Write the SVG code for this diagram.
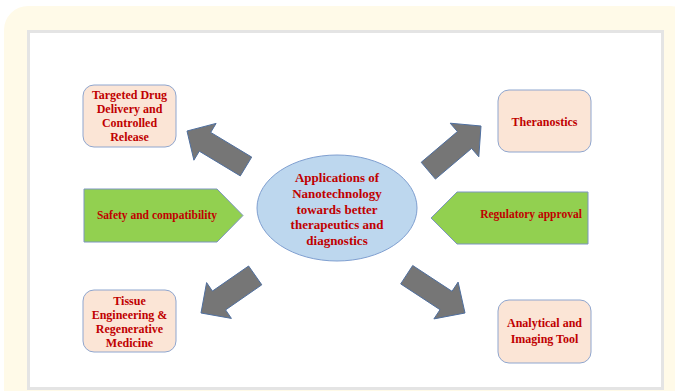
<svg xmlns="http://www.w3.org/2000/svg" width="675" height="391" viewBox="0 0 675 391">
<style>
.box{fill:#fbe5d6;stroke:#8fa6cf;stroke-width:1}
.grn{fill:#92d050;stroke:#7d95c0;stroke-width:1}
.arr{fill:#767676;stroke:#4f6f9f;stroke-width:1}
.t{font-family:"Liberation Serif","Times New Roman",serif;font-weight:bold;fill:#c00000;text-anchor:middle}
.s12{font-size:12px}
.s13{font-size:13px}
.s11{font-size:11.5px}
</style>
<rect x="4" y="6" width="690" height="420" rx="24" fill="#fffae8"/>
<rect x="28.5" y="31.5" width="634" height="357" fill="#ffffff" stroke="#e4e4e4" stroke-width="3"/>
<g id="connectors">
<polygon class="arr" points="251.7,157.1 210.7,132.4 216.1,123.4 187,131 193.9,160.2 199.3,151.2 240.3,175.9"/>
<polygon class="arr" points="435.4,179.1 471.6,148.4 478.8,156.8 481,126 450.2,123.2 457.4,131.6 421.2,162.3"/>
<polygon class="arr" points="261.8,284.8 225.6,309.9 231.4,318.4 201,313 206.6,282.6 212.4,291.1 248.6,266"/>
<polygon class="arr" points="412.7,265.5 452,291.3 458.1,282.1 465,313 433.9,318.9 440,309.7 400.7,283.9"/>
</g>
<g id="center">
<ellipse cx="337" cy="208" rx="80" ry="53" fill="#bdd7ee" stroke="#7f9fd0" stroke-width="1"/>
<text class="t s13" x="337" y="182">Applications of</text>
<text class="t s13" x="337" y="197.5">Nanotechnology</text>
<text class="t s13" x="337" y="213.5">towards better</text>
<text class="t s13" x="337" y="229">therapeutics and</text>
<text class="t s13" x="337" y="244.5">diagnostics</text>
</g>
<g id="targeted">
<rect class="box" x="83" y="85" width="93" height="62" rx="11"/>
<text class="t s12" x="129.5" y="99">Targeted Drug</text>
<text class="t s12" x="129.5" y="113">Delivery and</text>
<text class="t s12" x="129.5" y="127">Controlled</text>
<text class="t s12" x="129.5" y="141">Release</text>
</g>
<g id="theranostics">
<rect class="box" x="498" y="90" width="93" height="62" rx="11"/>
<text class="t s12" x="544.5" y="126">Theranostics</text>
</g>
<g id="tissue">
<rect class="box" x="83" y="290" width="93" height="62" rx="11"/>
<text class="t s12" x="129.5" y="305">Tissue</text>
<text class="t s12" x="129.5" y="319">Engineering &amp;</text>
<text class="t s12" x="129.5" y="333">Regenerative</text>
<text class="t s12" x="129.5" y="347">Medicine</text>
</g>
<g id="analytical">
<rect class="box" x="498" y="300" width="93" height="63" rx="11"/>
<text class="t s12" x="544.5" y="327">Analytical and</text>
<text class="t s12" x="544.5" y="343">Imaging Tool</text>
</g>
<g id="safety">
<polygon class="grn" points="84,189 217,189 243,215.5 217,242 84,242"/>
<text class="t s11" x="157" y="219">Safety and compatibility</text>
</g>
<g id="regulatory">
<polygon class="grn" points="431,218 457,192 588,192 588,244 457,244"/>
<text class="t s11" x="531" y="218">Regulatory approval</text>
</g>
</svg>
